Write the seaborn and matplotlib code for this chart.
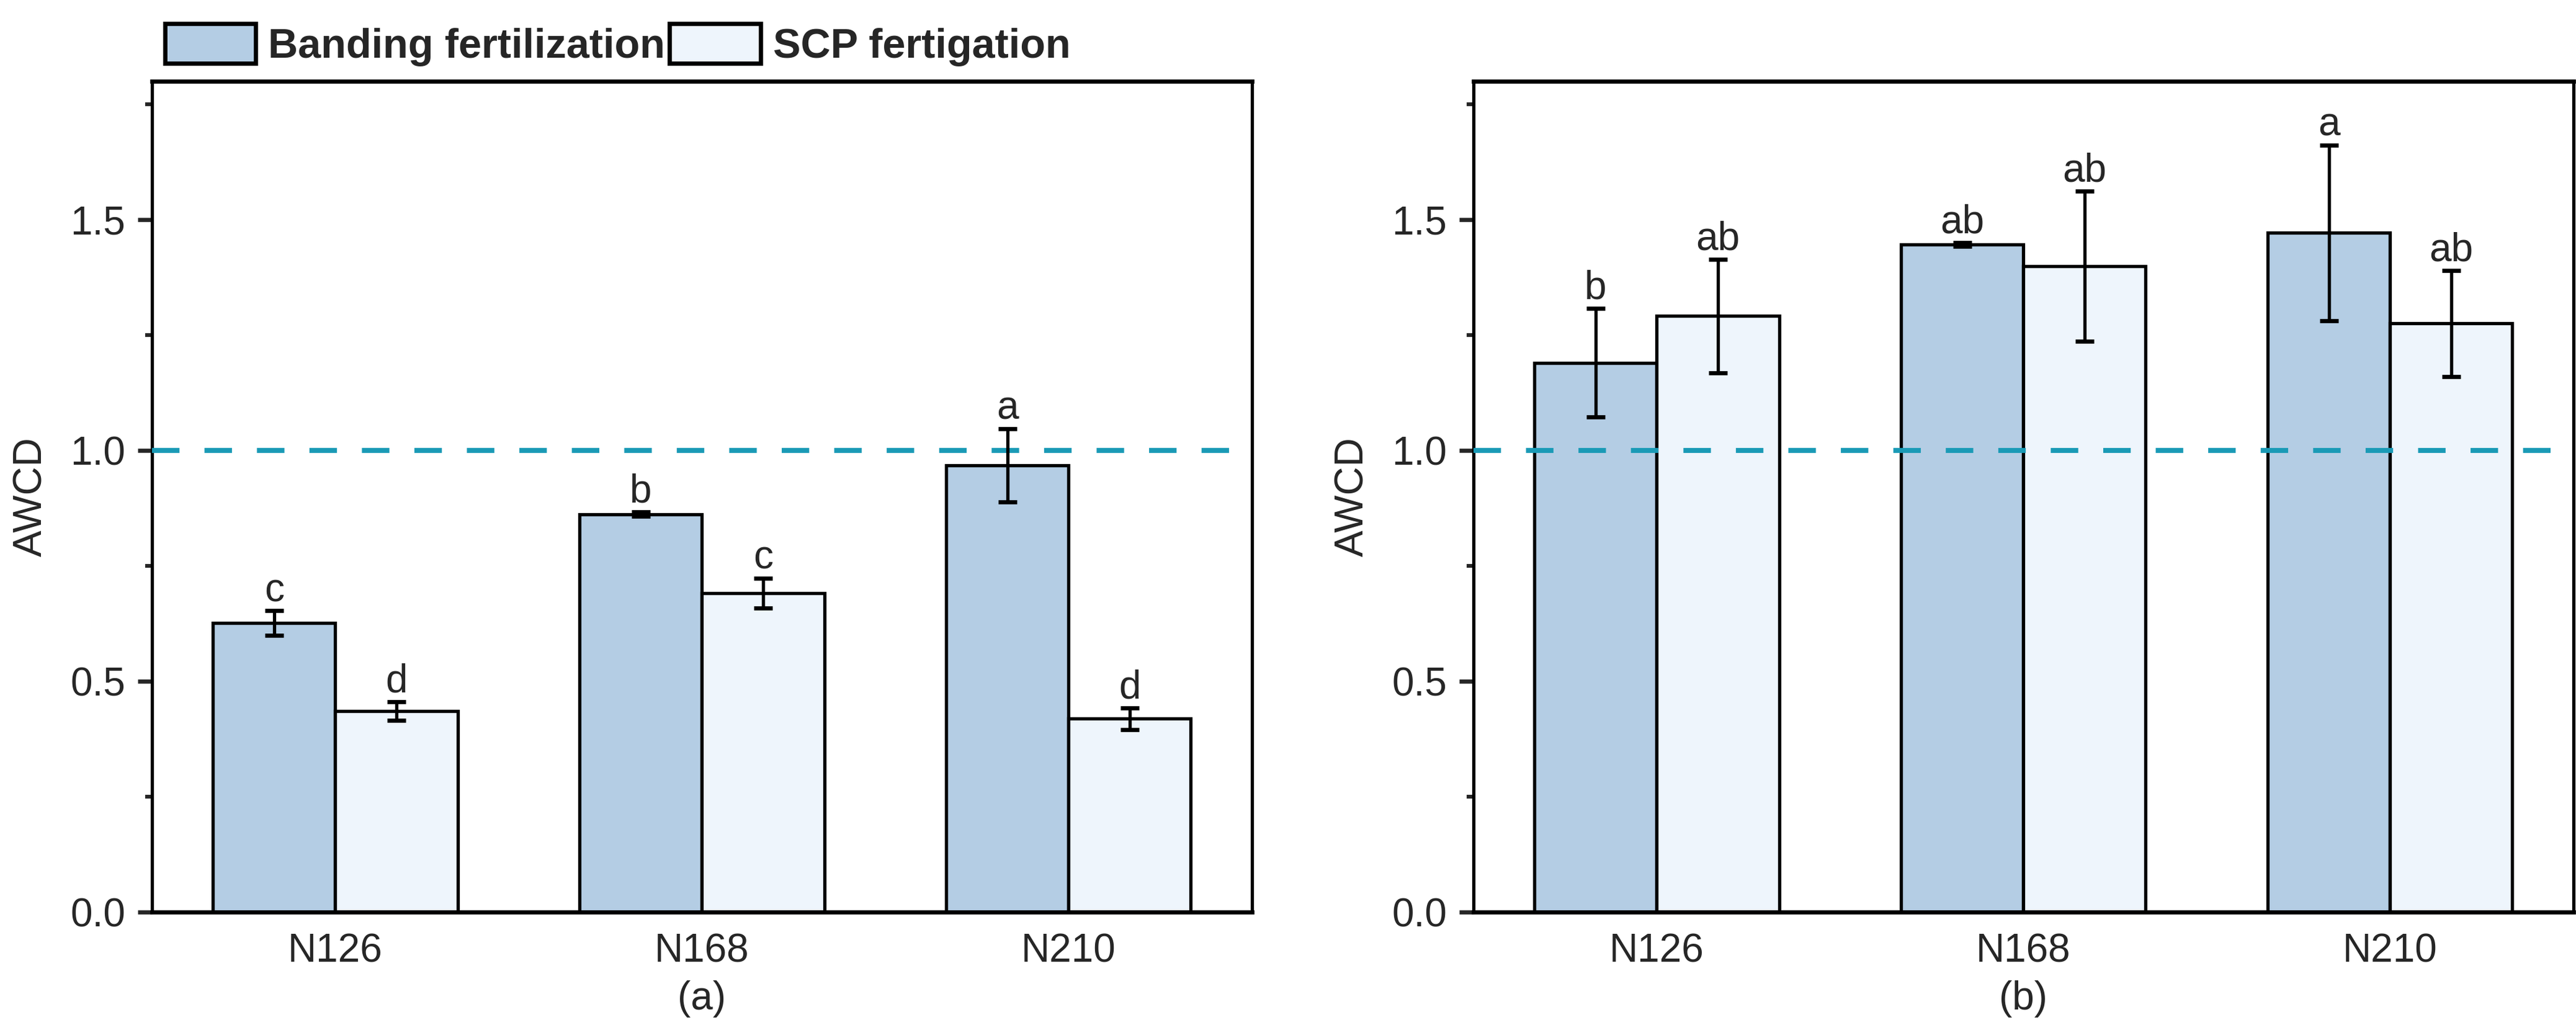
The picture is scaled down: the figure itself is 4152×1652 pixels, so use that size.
import pandas as pd
import seaborn as sns
import matplotlib.pyplot as plt
from matplotlib.ticker import MultipleLocator, FormatStrFormatter
from matplotlib.patches import Patch

# categories and treatments
groups = ["N126", "N168", "N210"]
treatments = ["Banding fertilization", "SCP fertigation"]

# panel (a) values
a_band = [0.626, 0.862, 0.968]
a_band_err = [0.027, 0.005, 0.079]
a_scp = [0.436, 0.691, 0.419]
a_scp_err = [0.020, 0.032, 0.024]
a_band_letters = ["c", "b", "a"]
a_scp_letters = ["d", "c", "d"]

# panel (b) values
b_band = [1.190, 1.446, 1.471]
b_band_err = [0.118, 0.004, 0.190]
b_scp = [1.291, 1.399, 1.275]
b_scp_err = [0.123, 0.163, 0.115]
b_band_letters = ["b", "ab", "a"]
b_scp_letters = ["ab", "ab", "ab"]

colors = ["#b4cde4", "#eef5fc"]
line_color = "#1a9ab6"

sns.set_style("ticks")
plt.rcParams["font.family"] = ["Liberation Sans", "DejaVu Sans"]


def draw_panel(ax, band, band_err, scp, scp_err, band_let, scp_let, tag):
    # long-form table for seaborn
    df = pd.DataFrame({
        "group": groups + groups,
        "treatment": [treatments[0]] * 3 + [treatments[1]] * 3,
        "AWCD": band + scp,
    })
    sns.barplot(data=df, x="group", y="AWCD", hue="treatment",
                order=groups, hue_order=treatments, palette=colors,
                saturation=1, width=0.667, edgecolor="black", linewidth=1.9,
                errorbar=None, legend=False, ax=ax, zorder=2)

    vals = [band, scp]
    errs = [band_err, scp_err]
    lets = [band_let, scp_let]
    bar_conts = list(ax.containers)
    for k, cont in enumerate(bar_conts):
        xs = [p.get_x() + p.get_width() / 2 for p in cont.patches]
        ax.errorbar(xs, vals[k], yerr=errs[k], fmt="none", ecolor="black",
                    elinewidth=1.9, capsize=5.5, capthick=2.4, zorder=5)
        for x, v, e, t in zip(xs, vals[k], errs[k], lets[k]):
            ax.text(x, v + e + 0.003, t, ha="center", va="bottom", fontsize=23)

    # reference line at AWCD = 1
    ax.axhline(1.0, color=line_color, lw=2.9, dashes=(5.5, 5.0), zorder=4)

    ax.set_xlim(-0.5, 2.5)
    ax.set_ylim(0, 1.8)
    ax.yaxis.set_major_locator(MultipleLocator(0.5))
    ax.yaxis.set_minor_locator(MultipleLocator(0.25))
    ax.yaxis.set_major_formatter(FormatStrFormatter("%.1f"))
    ax.tick_params(axis="y", which="major", direction="out", length=8.4,
                   width=2.4, labelsize=23, pad=7)
    ax.tick_params(axis="y", which="minor", direction="out", length=4, width=2.2)
    ax.tick_params(axis="x", length=0, labelsize=23, pad=12)
    ax.set_ylabel("AWCD", fontsize=23, labelpad=12)
    ax.set_xlabel(tag, fontsize=23, labelpad=6)
    for name, s in ax.spines.items():
        s.set_visible(True)
        s.set_color("black")
        s.set_linewidth(2.4 if name in ("top", "bottom") else 1.9)


fig = plt.figure(figsize=(20.76, 8.26), dpi=200)
ax1 = fig.add_axes([0.059, 0.110, 0.427, 0.811])
ax2 = fig.add_axes([0.572, 0.110, 0.427, 0.811])

draw_panel(ax1, a_band, a_band_err, a_scp, a_scp_err,
           a_band_letters, a_scp_letters, "(a)")
draw_panel(ax2, b_band, b_band_err, b_scp, b_scp_err,
           b_band_letters, b_scp_letters, "(b)")

# legend above the left panel
handles = [Patch(facecolor=c, edgecolor="black", linewidth=2.5) for c in colors]
fig.legend(handles, treatments, loc="center left", bbox_to_anchor=(0.064, 0.956),
           ncol=2, frameon=False, prop={"weight": "bold", "size": 24},
           handlelength=2.2, handleheight=1.1, handletextpad=0.3,
           columnspacing=0.1, borderaxespad=0, borderpad=0)

fig.savefig("out.png", dpi=200)
